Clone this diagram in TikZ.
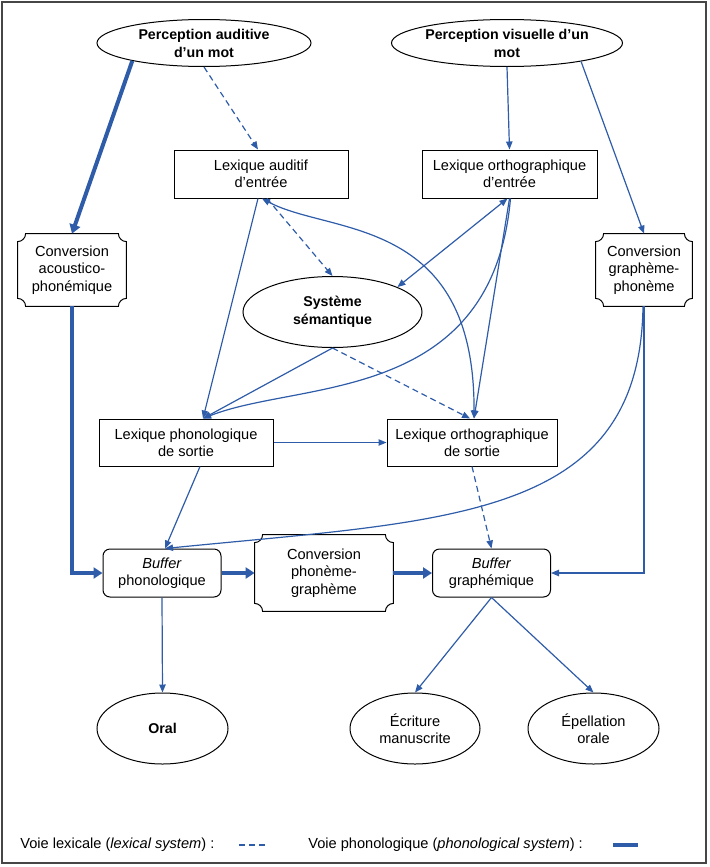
\documentclass[tikz,border=0pt]{standalone}
\usepackage{fontspec}
\setmainfont{Liberation Sans}
\usetikzlibrary{shapes.geometric,arrows.meta,calc}

\definecolor{voie}{RGB}{46,92,168}
\definecolor{cadre}{RGB}{70,70,70}

% boite a coins concaves autour d'un noeud
\newcommand\ticket[2][4pt]{%
  \draw[black,line width=0.5pt] ([xshift=#1]#2.north west) -- ([xshift=-#1]#2.north east)
    arc[start angle=180,end angle=270,radius=#1] -- ([yshift=#1]#2.south east)
    arc[start angle=90,end angle=180,radius=#1] -- ([xshift=#1]#2.south west)
    arc[start angle=0,end angle=90,radius=#1] -- ([yshift=-#1]#2.north west)
    arc[start angle=270,end angle=360,radius=#1] -- cycle;}

\begin{document}
\begin{tikzpicture}[x=0.5pt,y=0.5pt,
    txt/.style={font=\fontsize{7.3}{8.7}\selectfont},
    gras/.style={font=\fontsize{7.1}{9}\selectfont\bfseries},
    lex/.style={txt,draw,line width=0.5pt,rectangle,align=center,inner sep=1pt,minimum height=24pt},
    buf/.style={lex,rounded corners=3.5pt,minimum width=59pt},
    oval/.style={draw,line width=0.5pt,ellipse,align=center,inner sep=0pt},
    conv/.style={txt,align=center,inner sep=0pt,minimum height=36pt},
    lien/.style={voie,line width=0.6pt,-{Triangle[length=4pt,width=3.2pt]}},
    lexical/.style={lien,dash pattern=on 3pt off 2pt},
    phono/.style={voie,line width=2pt,-{Triangle[length=4.5pt,width=5.5pt]}}]
  \useasboundingbox (0,0) rectangle (710,-867);
  \draw[cadre,line width=0.8pt] (2,-2) rectangle (706,-863);

  % Perceptions
  \node[oval,gras,minimum width=107pt,minimum height=23.5pt] (PA) at (204,-43) {Perception auditive\\d’un mot};
  \node[oval,gras,minimum width=107pt,minimum height=23.5pt] (PV) at (507,-43) {Perception visuelle d’un\\mot};

  % Lexiques
  \node[lex,minimum width=87pt] (LAE) at (261,-174) {Lexique auditif\\d’entrée};
  \node[lex,minimum width=87.5pt] (LOE) at (509.5,-174) {Lexique orthographique\\d’entrée};
  \node[oval,gras,minimum width=89.5pt,minimum height=35.5pt] (SS) at (332.5,-312) {Système\\sémantique};
  \node[lex,minimum width=87pt,minimum height=23.5pt] (LPS) at (186,-442.5) {Lexique phonologique\\de sortie};
  \node[lex,minimum width=85pt,minimum height=23.5pt] (LOS) at (472,-442.5) {Lexique orthographique\\de sortie};

  % Conversions
  \node[conv,minimum width=54pt] (CAP) at (72,-270) {Conversion\\acoustico-\\phonémique};
  \node[conv,minimum width=48pt] (CGP) at (644,-270) {Conversion\\graphème-\\phonème};
  \node[conv,minimum width=69pt,minimum height=38pt] (CPG) at (324,-573) {Conversion\\phonème-\\graphème};
  \ticket{CAP}
  \ticket{CGP}
  \ticket{CPG}

  % Buffers et sorties
  \node[buf] (BP) at (162,-573) {\textit{Buffer}\\phonologique};
  \node[buf] (BG) at (491.5,-573) {\textit{Buffer}\\graphémique};
  \node[oval,gras,minimum width=65.5pt,minimum height=35.5pt] (Oral) at (162.5,-728.5) {Oral};
  \node[oval,txt,minimum width=65pt,minimum height=35.5pt] (EM) at (415,-728.5) {Écriture\\manuscrite};
  \node[oval,txt,minimum width=65.5pt,minimum height=35.5pt] (EO) at (593.5,-728.5) {Épellation\\orale};

  % Voies d'entree
  \draw[phono] (PA.194) -- (CAP.north);
  \draw[lexical] (PA.south) -- ([xshift=-1.5pt]LAE.north);
  \draw[lien] (PV.south) -- (LOE.north);
  \draw[lien] (PV.-14) -- (CGP.north);
  \draw[phono] (CAP.south) |- (BP.west);
  \draw[lien] (CGP.south) |- (BG.east);

  % Liens entre lexiques
  \draw[lien] ([xshift=-1.5pt]LAE.south) -- ([xshift=8.5pt]LPS.north);
  \draw[lexical] ([xshift=3pt]LAE.south) -- (SS.north);
  \draw[lien,{Triangle[length=4pt,width=3.2pt]}-{Triangle[length=4pt,width=3.2pt]}] ([xshift=0.5pt]LAE.south)
    .. controls (330,-235) and (475,-215) .. ([xshift=1pt]LOS.north);
  \draw[lien,{Triangle[length=4pt,width=3.2pt]}-{Triangle[length=4pt,width=3.2pt]}] ([xshift=-1pt]LOE.south) -- (SS.21);
  \draw[lien] (LOE.south) -- ([xshift=1pt]LOS.north);
  \draw[lien] ([xshift=0.5pt]LOE.south) .. controls (492,-405) and (300,-380) .. ([xshift=8.5pt]LPS.north);
  \draw[lien] (SS.south) -- ([xshift=8.5pt]LPS.north);
  \draw[lexical] (SS.south) -- ([xshift=-1pt]LOS.north);
  \draw[lien] (LPS.east) -- (LOS.west);

  % Vers les buffers
  \draw[lien] ([xshift=7pt]LPS.south) -- ([xshift=1.5pt]BP.north);
  \draw[lexical] (LOS.south) -- (BG.north);
  \draw[lien] ([xshift=-0.5pt]CGP.south) .. controls (640,-520) and (450,-520) .. ([xshift=1.5pt]BP.north);
  \draw[phono] (BP.east) -- (CPG.west);
  \draw[phono] (CPG.east) -- (BG.west);
  \draw[lien] (BP.south) -- (Oral.north);
  \draw[lien] (BG.south) -- (EM.north);
  \draw[lien] (BG.south) -- (EO.north);

  % Legende
  \node[txt,right,inner sep=0pt] (legLex) at (20,-845) {Voie lexicale (\textit{lexical system}) :};
  \coordinate (lexA) at (239,-845);
  \coordinate (lexB) at (267,-845);
  \draw[voie,line width=0.6pt,dash pattern=on 3pt off 2pt] (lexA) -- (lexB);
  \node[txt,right,inner sep=0pt] (legPho) at (308,-845) {Voie phonologique (\textit{phonological system}) :};
  \coordinate (phoA) at (613,-845);
  \coordinate (phoB) at (638,-845);
  \draw[voie,line width=2pt] (phoA) -- (phoB);
\end{tikzpicture}
\end{document}
